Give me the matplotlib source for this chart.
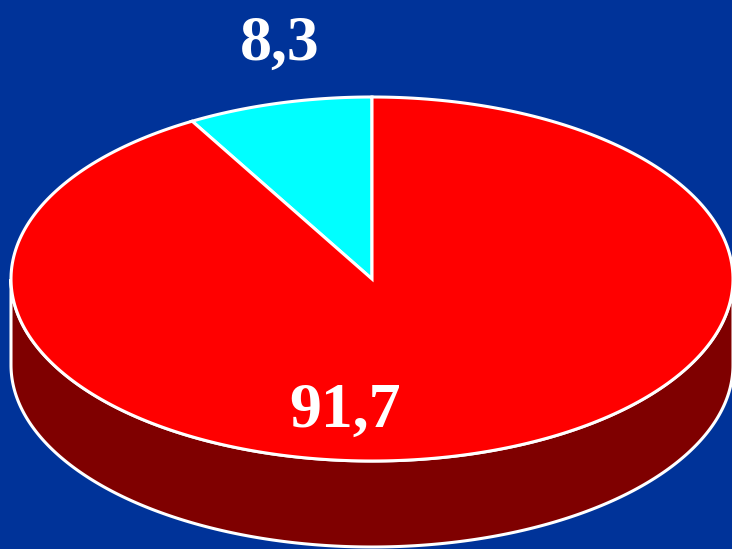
import numpy as np
import matplotlib.pyplot as plt
from matplotlib.patches import Polygon

# data
labels = ['8,3', '91,7']
values = [8.3, 91.7]
top_colors = ['#00FFFF', '#FF0000']
side_colors = ['#007F7F', '#7F0000']

# layout (pixel-like units)
bg = '#003399'
cx, cy, rx, ry, depth = 372, 279, 361, 182, 86
label_xy = [(280, 60), (345, 427)]


def rim(t0, t1, n=300):
    t = np.radians(np.linspace(t0, t1, n))
    return cx + rx * np.cos(t), cy - ry * np.sin(t)


fig = plt.figure(figsize=(7.32, 5.49), dpi=100, facecolor=bg)
ax = fig.add_axes([0, 0, 1, 1])
ax.set_facecolor(bg)
ax.set_xlim(0, 732)
ax.set_ylim(549, 0)
ax.axis('off')

angles = 360 * np.array(values) / sum(values)
starts = 90 + np.concatenate([[0], np.cumsum(angles)[:-1]])

# side walls (front half only)
for s, a, c in zip(starts, angles, side_colors):
    for off in (0, 360):
        lo, hi = max(s, 180 + off), min(s + a, 360 + off)
        if hi <= lo:
            continue
        x, y = rim(lo, hi)
        pts = np.column_stack([np.concatenate([x, x[::-1]]),
                               np.concatenate([y, y[::-1] + depth])])
        ax.add_patch(Polygon(pts, closed=True, facecolor=c, edgecolor='white', lw=2.2))

# top faces
for s, a, c in zip(starts, angles, top_colors):
    x, y = rim(s, s + a)
    pts = np.column_stack([np.concatenate([[cx], x]), np.concatenate([[cy], y])])
    ax.add_patch(Polygon(pts, closed=True, facecolor=c, edgecolor='white', lw=2.2,
                         joinstyle='miter'))

for lab, (x, y) in zip(labels, label_xy):
    ax.text(x, y, lab, color='white', fontsize=46, fontweight='bold',
            family='Liberation Serif', ha='center', va='baseline')

fig.savefig('out.png', dpi=100, facecolor=bg)
